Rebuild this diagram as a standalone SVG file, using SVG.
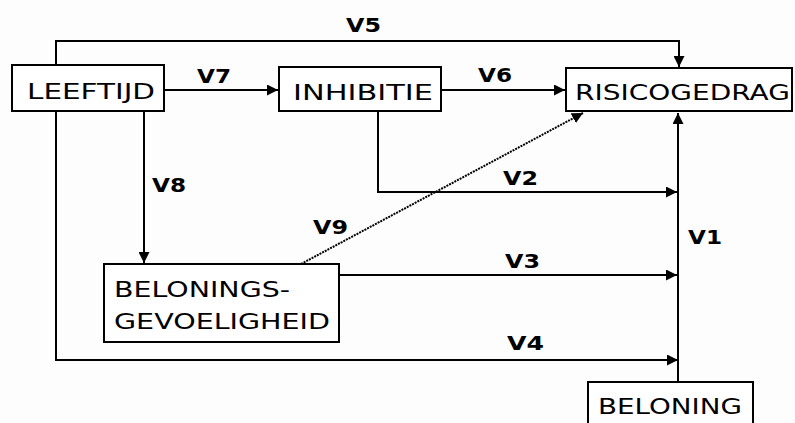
<svg xmlns="http://www.w3.org/2000/svg" width="795" height="423" viewBox="0 0 795 423">
<defs>
<marker id="ah" viewBox="0 0 10 10" refX="10" refY="5" markerWidth="11" markerHeight="11" markerUnits="userSpaceOnUse" orient="auto">
<path d="M0,0 L10,5 L0,10 z" fill="#000"/>
</marker>
<style>
.box{fill:#fff;stroke:#000;stroke-width:2}
.n{font-family:"DejaVu Sans",Verdana,sans-serif;font-size:21px;fill:#000}
.l{font-family:"DejaVu Sans",Verdana,sans-serif;font-size:20px;font-weight:bold;fill:#000}
.c{fill:none;stroke:#000;stroke-width:2}
.d{fill:none;stroke:#000;stroke-width:2;stroke-dasharray:2 1}
</style>
</defs>
<rect width="795" height="423" fill="#fdfdfd"/>
<g id="connectors">
<path class="c" d="M56,65 V41 H679 V67" marker-end="url(#ah)"/>
<path class="c" d="M164,90 H278" marker-end="url(#ah)"/>
<path class="c" d="M441,90 H565" marker-end="url(#ah)"/>
<path class="c" d="M144,111 V263" marker-end="url(#ah)"/>
<path class="c" d="M378,111 V192 H677" marker-end="url(#ah)"/>
<path class="c" d="M339,275 H677" marker-end="url(#ah)"/>
<path class="c" d="M56,111 V360 H678" marker-end="url(#ah)"/>
<path class="d" d="M301,264 L583,113" marker-end="url(#ah)"/>
<path class="c" d="M678,382 V113" marker-end="url(#ah)"/>
<text class="l" x="346" y="32" textLength="35" lengthAdjust="spacingAndGlyphs">V5</text>
<text class="l" x="197" y="83" textLength="34" lengthAdjust="spacingAndGlyphs">V7</text>
<text class="l" x="478" y="82" textLength="34" lengthAdjust="spacingAndGlyphs">V6</text>
<text class="l" x="152" y="192" textLength="34" lengthAdjust="spacingAndGlyphs">V8</text>
<text class="l" x="503" y="185" textLength="35" lengthAdjust="spacingAndGlyphs">V2</text>
<text class="l" x="313" y="234" textLength="35" lengthAdjust="spacingAndGlyphs">V9</text>
<text class="l" x="505" y="268" textLength="35" lengthAdjust="spacingAndGlyphs">V3</text>
<text class="l" x="507" y="350" textLength="37" lengthAdjust="spacingAndGlyphs">V4</text>
<text class="l" x="688" y="244" textLength="34" lengthAdjust="spacingAndGlyphs">V1</text>
</g>
<g id="leeftijd">
<rect class="box" x="12" y="65" width="152" height="46"/>
<text class="n" x="27" y="99" textLength="128" lengthAdjust="spacingAndGlyphs">LEEFTIJD</text>
</g>
<g id="inhibitie">
<rect class="box" x="279" y="67" width="162" height="44"/>
<text class="n" x="293" y="100" textLength="140" lengthAdjust="spacingAndGlyphs">INHIBITIE</text>
</g>
<g id="risicogedrag">
<rect class="box" x="566" y="68" width="226" height="43"/>
<text class="n" x="575" y="100" textLength="215" lengthAdjust="spacingAndGlyphs">RISICOGEDRAG</text>
</g>
<g id="beloningsgevoeligheid">
<rect class="box" x="104" y="264" width="235" height="78"/>
<text class="n" x="114" y="297" textLength="176" lengthAdjust="spacingAndGlyphs">BELONINGS-</text>
<text class="n" x="114" y="329" textLength="216" lengthAdjust="spacingAndGlyphs">GEVOELIGHEID</text>
</g>
<g id="beloning">
<rect class="box" x="588" y="382" width="165" height="50"/>
<text class="n" x="598" y="414" textLength="144" lengthAdjust="spacingAndGlyphs">BELONING</text>
</g>
</svg>
